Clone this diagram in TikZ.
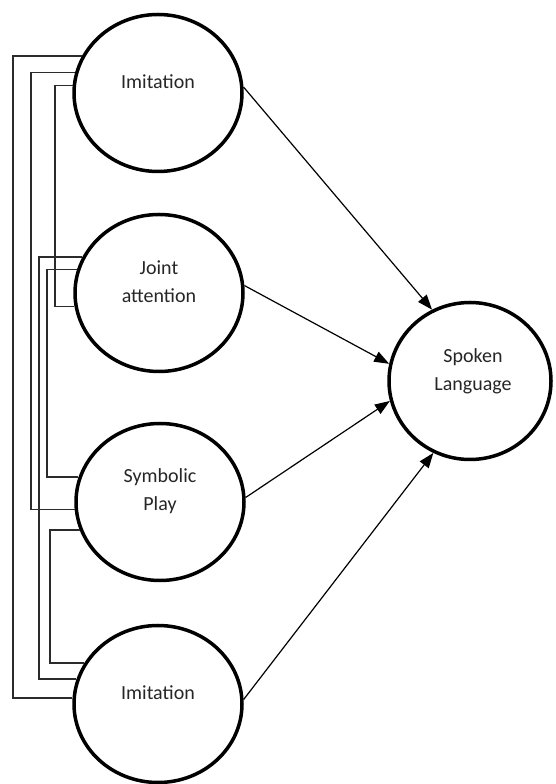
\documentclass[tikz,border=0pt]{standalone}
\usepackage{fontspec}
\setmainfont{Carlito}
\usetikzlibrary{arrows.meta,shapes.geometric}
\definecolor{cline}{HTML}{2B2B2B}
\definecolor{ctext}{HTML}{262626}
\tikzset{
  >={Triangle[length=15pt,width=11pt]},
  cstate/.style={ellipse, draw=black, line width=3.5pt, fill=white,
                 minimum width=168pt, minimum height=157pt, inner sep=0pt},
  clbl/.style={text=ctext, font=\fontsize{20}{28}\selectfont, align=center},
  clink/.style={draw=cline, line width=1.6pt},
  cpath/.style={->, black, line width=1.2pt},
}

\begin{document}
\begin{tikzpicture}[x=1pt,y=1pt]
  \useasboundingbox (0,0) rectangle (555,784);

  % --- the four skills and the outcome ---
  \node[cstate] (imitTop)  at (158,691) {};
  \node[cstate] (joint)    at (159,491) {};
  \node[cstate] (symbolic) at (160,282) {};
  \node[cstate] (imitBot)  at (158,80)  {};
  \node[cstate, minimum width=162pt] (spoken) at (470,403) {};

  \node[clbl] (tImitTop)  at ([yshift=11pt]imitTop)  {Imitation};
  \node[clbl] (tJoint)    at ([yshift=11pt]joint)    {Joint\\attention};
  \node[clbl] (tSymbolic) at ([yshift=11pt]symbolic) {Symbolic\\Play};
  \node[clbl] (tImitBot)  at ([yshift=11pt]imitBot)  {Imitation};
  \node[clbl] (tSpoken)   at ([xshift=3pt,yshift=10pt]spoken) {Spoken\\Language};

  % arrows into spoken language
  \draw[cpath] (imitTop.4)  -- (spoken.118);
  \draw[cpath] (joint.5)    -- (spoken.168);
  \draw[cpath] (symbolic.3) -- (spoken.194);
  \draw[cpath] (imitBot.3)  -- (spoken.243);

  % --- correlations on the left ---
  \coordinate (railA) at (13,0);
  \coordinate (railB) at (31,0);
  \coordinate (railD) at (39,0);
  \coordinate (railE) at (47,0);
  \coordinate (railF) at (50,0);
  \coordinate (railC) at (55,0);

  \draw[clink] (imitTop.154) -- (imitTop.154 -| railA) |- (imitBot.176);
  \draw[clink] (imitTop.166) -- (imitTop.166 -| railB) |- (symbolic.185);
  \draw[clink] (imitTop.175) -- (imitTop.175 -| railC) |- (joint.189);
  \draw[clink] (joint.155) -- (joint.155 -| railD) |- (imitBot.163);
  \draw[clink] (joint.164) -- (joint.164 -| railE) |- (symbolic.163);
  \draw[clink] (symbolic.199) -- (symbolic.199 -| railF) |- (imitBot.151);

\end{tikzpicture}
\end{document}
